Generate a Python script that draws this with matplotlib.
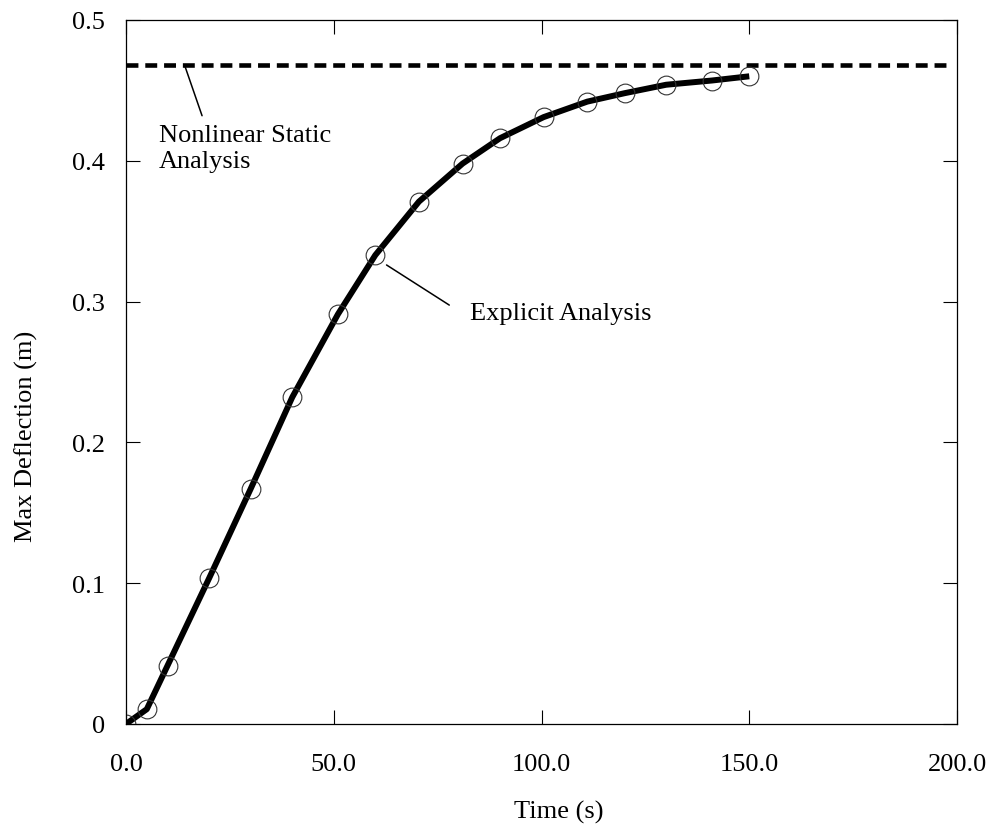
import matplotlib
import matplotlib.pyplot as plt

matplotlib.use("Agg")

plt.rcParams["font.family"] = ["Liberation Serif", "DejaVu Serif"]

# explicit analysis results (time in s, deflection in m)
time_s = [0, 5, 10, 20, 30, 40, 51, 60, 70.5, 81, 90, 100.5, 111, 120, 130, 141, 150]
deflection = [0.0, 0.0105, 0.0415, 0.1035, 0.167, 0.232, 0.291, 0.333, 0.371, 0.398,
              0.416, 0.431, 0.442, 0.448, 0.454, 0.457, 0.460]

# nonlinear static result
static_x = [0, 198]
static_y = [0.468, 0.468]

x_ticks = [0, 50, 100, 150, 200]
x_ticklabels = ["0.0", "50.0", "100.0", "150.0", "200.0"]
y_ticks = [0, 0.1, 0.2, 0.3, 0.4, 0.5]
y_ticklabels = ["0", "0.1", "0.2", "0.3", "0.4", "0.5"]

fig = plt.figure(figsize=(9.97, 8.29), dpi=100)
ax = fig.add_axes([0.1264, 0.1255, 0.8335, 0.8492])

ax.plot(static_x, static_y, color="black", lw=3.3, linestyle=(0, (2.6, 1.5)))
ax.plot(time_s, deflection, color="black", lw=4.3, solid_capstyle="butt")
ax.plot(time_s, deflection, linestyle="none", marker="o", markersize=13.5,
        markerfacecolor="none", markeredgecolor="#333333", markeredgewidth=0.8)

ax.set_xlim(0, 200)
ax.set_ylim(0, 0.5)
ax.set_xticks(x_ticks)
ax.set_xticklabels(x_ticklabels)
ax.set_yticks(y_ticks)
ax.set_yticklabels(y_ticklabels)
ax.tick_params(axis="both", direction="in", length=10, width=0.8, labelsize=19,
               top=True, right=True)
ax.tick_params(axis="x", pad=21)
ax.tick_params(axis="y", pad=15)
for sp in ax.spines.values():
    sp.set_linewidth(0.9)

ax.set_xlabel("Time (s)", fontsize=19)
ax.xaxis.set_label_coords(0.521, -0.108)
ax.set_ylabel("Max Deflection (m)", fontsize=19)
ax.yaxis.set_label_coords(-0.106, 0.41)

leader = dict(arrowstyle="-", color="black", lw=1.1, shrinkA=0, shrinkB=0)
ax.annotate("", xy=(14.2, 0.467), xytext=(18.3, 0.432), arrowprops=leader)
ax.text(7.9, 0.409, "Nonlinear Static\nAnalysis", fontsize=19, ha="left",
        va="center", linespacing=1.22)
ax.annotate("", xy=(62.7, 0.326), xytext=(77.8, 0.2975), arrowprops=leader)
ax.text(82.8, 0.2916, "Explicit Analysis", fontsize=19, ha="left", va="center")

fig.savefig("out.png", dpi=100)
plt.close(fig)
